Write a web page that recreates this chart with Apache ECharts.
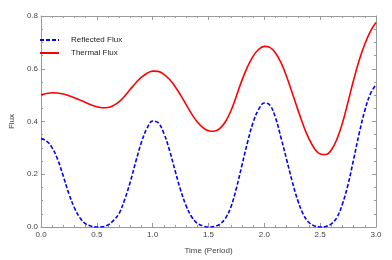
<!DOCTYPE html>
<html><head><meta charset="utf-8">
<script src="https://cdn.jsdelivr.net/npm/echarts@6/dist/echarts.min.js"></script>
<style>html,body{margin:0;padding:0;background:#fff}#c{width:392px;height:260px}</style>
</head><body><div id="c"></div>
<script>
const times = [0.00,0.05,0.10,0.15,0.20,0.25,0.30,0.35,0.40,0.45,0.50,0.55,0.60,0.65,0.70,0.75,0.80,0.85,0.90,0.95,
1.00,1.05,1.10,1.15,1.20,1.25,1.30,1.35,1.40,1.45,1.50,1.55,1.60,1.65,1.70,1.75,1.80,1.85,1.90,1.95,
2.00,2.05,2.10,2.15,2.20,2.25,2.30,2.35,2.40,2.45,2.50,2.55,2.60,2.65,2.70,2.75,2.80,2.85,2.90,2.95,3.00];
const reflectedFlux = [0.335,0.326,0.300,0.255,0.192,0.126,0.072,0.034,0.012,0.003,0.000,0.001,0.008,0.025,0.052,0.105,0.172,0.250,0.322,0.375,
0.402,0.395,0.355,0.292,0.215,0.140,0.080,0.038,0.014,0.004,0.000,0.002,0.010,0.032,0.075,0.148,0.235,0.322,0.397,0.447,
0.470,0.462,0.414,0.337,0.255,0.172,0.100,0.047,0.017,0.004,0.000,0.002,0.012,0.036,0.088,0.162,0.257,0.356,0.442,0.505,0.540];
const thermalFlux = [0.501,0.506,0.509,0.508,0.504,0.498,0.490,0.481,0.472,0.463,0.456,0.452,0.453,0.461,0.475,0.497,0.522,0.547,0.568,0.583,
0.591,0.590,0.579,0.560,0.533,0.500,0.464,0.428,0.398,0.377,0.365,0.363,0.373,0.398,0.440,0.497,0.557,0.608,0.648,0.674,
0.685,0.681,0.660,0.622,0.570,0.508,0.445,0.385,0.334,0.297,0.277,0.275,0.292,0.333,0.395,0.475,0.558,0.633,0.694,0.742,0.775];
const seriesNames = ['Reflected Flux','Thermal Flux'];
const xLabel = 'Time (Period)';
const yLabel = 'Flux';

const pair = arr => times.map((t,i)=>[t,arr[i]]);
const axisCol = '#999999';
const labCol = '#444444';
const font = 'Liberation Sans, Arial, sans-serif';
function xAx(pos, show){
  return {type:'value',min:0,max:3,interval:0.5,position:pos,
    name: show?xLabel:'', nameLocation:'middle', nameGap:20,
    nameTextStyle:{color:labCol,fontSize:8,fontFamily:font},
    axisLine:{show:true,onZero:false,lineStyle:{color:axisCol,width:1}},
    axisTick:{show:true,inside:true,length:4,lineStyle:{color:axisCol}},
    minorTick:{show:true,splitNumber:5,length:2,lineStyle:{color:axisCol}},
    axisLabel:{show:show,margin:4,color:labCol,fontSize:8,fontFamily:font,formatter:v=>v.toFixed(1)},
    splitLine:{show:false}};
}
function yAx(pos, show){
  return {type:'value',min:0,max:0.8,interval:0.2,position:pos,
    name: show?yLabel:'', nameLocation:'middle', nameGap:22,
    nameTextStyle:{color:labCol,fontSize:8,fontFamily:font},
    axisLine:{show:true,onZero:false,lineStyle:{color:axisCol,width:1}},
    axisTick:{show:true,inside:true,length:4,lineStyle:{color:axisCol}},
    minorTick:{show:true,splitNumber:4,length:2,lineStyle:{color:axisCol}},
    axisLabel:{show:show,margin:3,color:labCol,fontSize:8,fontFamily:font,formatter:v=>v.toFixed(1)},
    splitLine:{show:false}};
}
const chart = echarts.init(document.getElementById('c'),null,{renderer:'canvas'});
chart.setOption({
  animation:false,
  backgroundColor:'#ffffff',
  grid:{left:29,right:16,top:16,bottom:31,containLabel:false},
  legend:{orient:'vertical',left:39,top:36,padding:0,itemWidth:19,itemHeight:10,itemGap:5,
    itemStyle:{opacity:0},
    textStyle:{color:'#222',fontSize:8,fontFamily:font,padding:[0,0,0,7]},
    data:seriesNames},
  xAxis:[xAx('bottom',true),xAx('top',false)],
  yAxis:[yAx('left',true),yAx('right',false)],
  series:[
    {name:seriesNames[0],type:'line',xAxisIndex:0,yAxisIndex:0,smooth:0.4,showSymbol:false,symbol:'none',
     data:pair(reflectedFlux),color:'#0000ff',lineStyle:{color:'#0000ff',width:1.6,type:[4,2]}},
    {name:seriesNames[1],type:'line',xAxisIndex:0,yAxisIndex:0,smooth:0.4,showSymbol:false,symbol:'none',
     data:pair(thermalFlux),color:'#ff0000',lineStyle:{color:'#ff0000',width:1.6}}
  ]
});
</script></body></html>
